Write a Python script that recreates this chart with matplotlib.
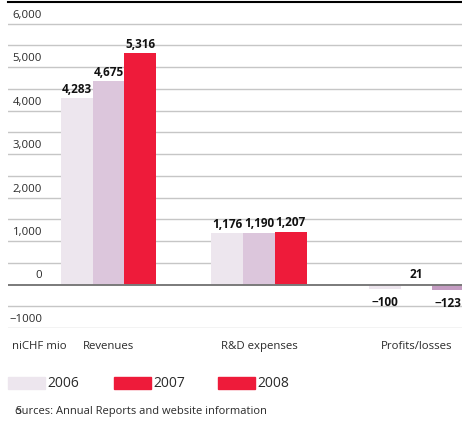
import matplotlib
matplotlib.use('Agg')
from matplotlib import pyplot as plt
from matplotlib.patches import Rectangle
import numpy as np

categories = ['Revenues', 'R&D expenses', 'Profits/losses']
years = ['2006', '2007', '2008']
vals_2006 = [4283, 1176, -100]
vals_2007 = [4675, 1190, 21]
vals_2008 = [5316, 1207, -123]
labels_2006 = ['4,283', '1,176', '\u2212100']
labels_2007 = ['4,675', '1,190', '21']
labels_2008 = ['5,316', '1,207', '\u2212123']
tick_vals = [6000, 5000, 4000, 3000, 2000, 1000, 0, -1000]
tick_labels = ['6,000', '5,000', '4,000', '3,000', '2,000', '1,000', '0', '\u22121000']
unit_label = 'niCHF mio'
source = 'Sources: Annual Reports and website information'

# colours as they appear (last profits bar is mauve, legend shows red twice)
bar_colors = [['#ede6ee'] * 3, ['#dcc6dc'] * 3, ['#ee1b3a', '#ee1b3a', '#c49cc2']]
legend_colors = ['#ede6ee', '#ee1b3a', '#ee1b3a']

plt.rcParams['font.family'] = ['Open Sans', 'DejaVu Sans']

W, H = 462, 423
fig = plt.figure(figsize=(W / 100, H / 100), dpi=100)
ax = fig.add_axes([8 / W, 1 - 328 / H, 454 / W, 326 / H])

group_pos = np.array([0, 1, 2.047])
width = 0.211
series = [vals_2006, vals_2007, vals_2008]
series_labels = [labels_2006, labels_2007, labels_2008]

for y in np.arange(-1000, 6001, 500):
    if y == 0:
        continue
    ax.axhline(y, color='#c6c6c6', lw=1.0, zorder=0)
ax.axhline(6500, color='black', lw=1.5, zorder=0, clip_on=False)

for i, (vals, labs) in enumerate(zip(series, series_labels)):
    xs = group_pos + (i - 1) * width
    ax.bar(xs, vals, width, color=bar_colors[i], zorder=2)
    for x, v, lab in zip(xs, vals, labs):
        if v >= 0:
            ax.text(x, v + 60, lab, ha='center', va='bottom', fontsize=8.5,
                    fontweight='bold', color='#111111', zorder=3)
        else:
            ax.text(x, v - 170, lab, ha='center', va='top', fontsize=8.5,
                    fontweight='bold', color='#111111', zorder=3)

ax.axhline(0, color='#7a7a7a', lw=1.4, zorder=3)

ytr = ax.get_yaxis_transform()
for t, lab in zip(tick_vals, tick_labels):
    ax.text(0.075, t + 70, lab, transform=ytr, ha='right', va='bottom',
            fontsize=8.2, color='#2a2a2a')

for x, c in zip(group_pos, categories):
    ax.text(x, -1430, c, ha='center', va='center', fontsize=8.2, color='#2a2a2a')
ax.text(0.009, -1430, unit_label, transform=ytr, ha='left', va='center',
        fontsize=8.2, color='#2a2a2a')

ax.set_xlim(-0.668, 2.349)
ax.set_ylim(-1000, 6500)
ax.axis('off')

# legend
leg_x = [8, 114, 218]
for x, c, yr in zip(leg_x, legend_colors, years):
    fig.patches.append(Rectangle((x / W, 1 - 389 / H), 37 / W, 12 / H,
                                 transform=fig.transFigure, color=c))
    fig.text((x + 39) / W, 1 - 383 / H, yr, ha='left', va='center',
             fontsize=10, color='#2a2a2a')

# source line (first two letters overprinted in the original)
fig.text(15 / W, 1 - 411 / H, source[0], ha='left', va='center', fontsize=8, color='#2a2a2a')
fig.text(15 / W, 1 - 411 / H, source[1:], ha='left', va='center', fontsize=8, color='#2a2a2a')

fig.savefig('out.png', dpi=100)
